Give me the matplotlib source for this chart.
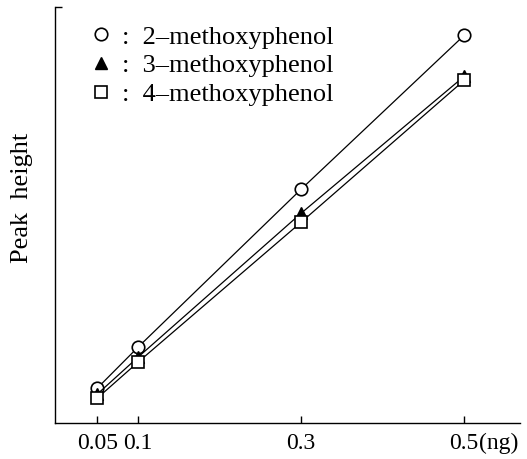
import matplotlib
matplotlib.use("Agg")
import matplotlib.pyplot as plt

plt.rcParams['font.family'] = ['Liberation Serif', 'DejaVu Serif']

# amount injected (ng)
amount = [0.05, 0.1, 0.3, 0.5]
# peak heights (arbitrary units)
h_2mp = [35, 76, 234, 388]
h_3mp = [29, 66, 210, 347]
h_4mp = [25, 61, 201, 343]
names = ["2\u2013methoxyphenol", "3\u2013methoxyphenol", "4\u2013methoxyphenol"]
tick_labels = ["0.05", "0.1", "0.3", "0.5"]

fig = plt.figure(figsize=(5.27, 4.59), dpi=100)
ax = fig.add_axes([0.104, 0.078, 0.882, 0.906])

l1, = ax.plot(amount, h_2mp, color="black", lw=0.9, marker="o", ms=9,
              mfc="white", mec="black", mew=1.2)
l2, = ax.plot(amount, h_3mp, color="black", lw=0.9, marker="^", ms=9,
              mfc="black", mec="black")
l3, = ax.plot(amount, h_4mp, color="black", lw=0.9, marker="s", ms=8,
              mfc="white", mec="black", mew=1.2)
ax.set_xlim(-0.002, 0.568)
ax.set_ylim(0, 416)

for s in ["top", "right"]:
    ax.spines[s].set_visible(False)
ax.spines["left"].set_linewidth(1.0)
ax.spines["bottom"].set_linewidth(1.0)

ax.set_xticks(amount)
ax.set_xticklabels(tick_labels, fontsize=17)
ax.tick_params(axis="x", direction="in", length=5, width=1, pad=7)
ax.set_yticks([416])
ax.set_yticklabels([])
ax.tick_params(axis="y", direction="in", length=5, width=1)

ax.annotate("(ng)", xy=(0.5, 0), xycoords=("data", "axes fraction"),
            xytext=(11, -7), textcoords="offset points",
            ha="left", va="top", fontsize=17)

ax.set_ylabel("Peak  height", fontsize=19, va="center")
ax.yaxis.set_label_coords(-0.071, 0.543)

leg = ax.legend([l1, l2, l3], [":  " + n for n in names], loc="upper left",
                bbox_to_anchor=(0.065, 0.995), frameon=False, fontsize=19,
                handlelength=0, handletextpad=0.8, labelspacing=0.2,
                numpoints=1, borderaxespad=0.2)

fig.savefig("out.png", dpi=100)
